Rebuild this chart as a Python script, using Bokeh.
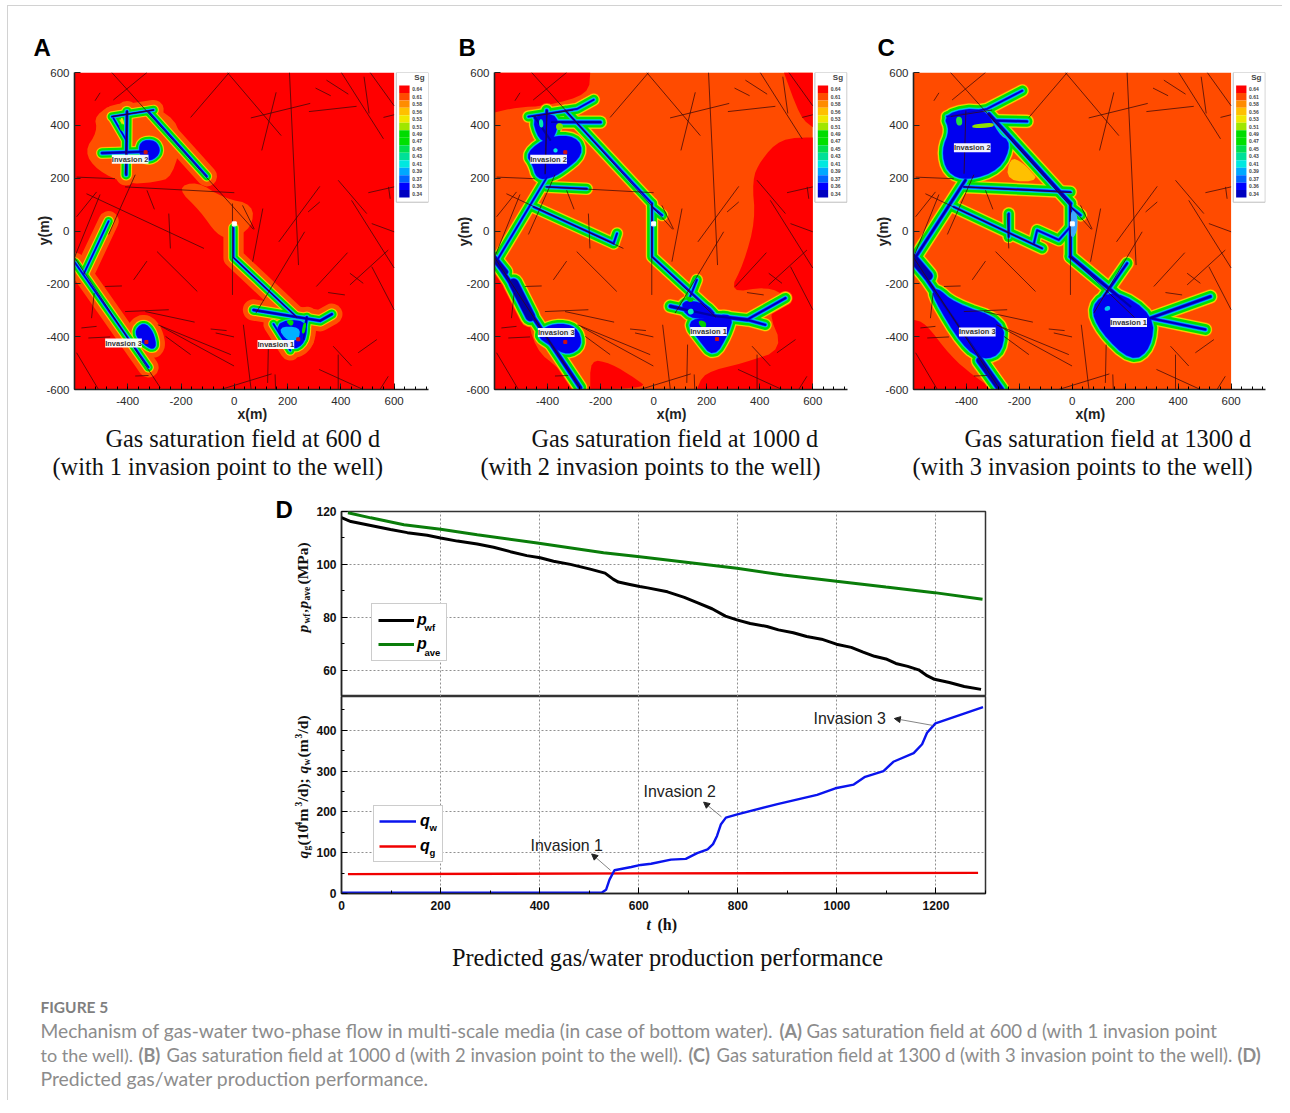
from bokeh.plotting import figure
from bokeh.layouts import column, row
from bokeh.models import (Label, Legend, LegendItem, Arrow, NormalHead, Div, FixedTicker, Range1d)
from bokeh.embed import file_html
from bokeh.resources import INLINE

# ---------- field panels: data (metres) ----------
SG_LEVELS = ["0.64","0.61","0.58","0.56","0.53","0.51","0.49","0.47","0.45","0.43","0.41","0.39","0.37","0.36","0.34"]
SG_COLORS = ["#FF0000","#FF4B00","#FF8C00","#FFC000","#F0E800","#A0E600","#00DC00","#00E000","#00E050",
             "#00E098","#00E8E0","#00A8FF","#0064FF","#0000FF","#0000C0"]
TICKS_X = [-400,-200,0,200,400,600]
TICKS_Y = [-600,-400,-200,0,200,400,600]

FRACTURES = [
 [(-460,600),(72,6)],[(-328,600),(-454,496)],[(-19,600),(-164,430)],[(-26,600),(176,361)],[(207,600),(241,-129)],
 [(62,428),(285,483)],[(280,452),(459,472)],[(157,525),(103,305)],[(346,571),(428,518)],[(305,541),(362,512)],
 [(402,600),(560,349)],[(487,584),(506,445)],[(510,600),(600,474)],[(560,430),(600,440)],[(503,145),(600,167)],
 [(579,167),(585,122)],[(390,192),(497,66)],[(440,116),(600,-140)],[(516,-135),(600,-298)],[(516,28),(600,-3)],
 [(434,-204),(578,-72)],[(434,-160),(484,-198)],[(308,-210),(425,-82)],[(352,-233),(415,-242)],[(167,-41),(321,169)],
 [(277,72),(321,110)],[(107,85),(69,-116)],[(264,-3),(81,-311)],[(-7,-97),(-7,-242)],[(-290,-78),(-139,-229)],
 [(-328,-114),(-378,-185)],[(-246,66),(-240,-66)],[(-328,154),(-300,82)],[(-555,141),(-114,-66)],[(31,97),(75,7)],
 [(-410,167),(0,145)],[(-592,204),(-448,198)],[(-592,54),(-517,148)],[(-372,213),(-472,-13)],[(-504,138),(-600,-100)],
 [(-410,-305),(-246,-298)],[(-334,-305),(-149,-345)],[(-287,-355),(-13,-468)],[(-275,-361),(-1,-511)],
 [(-258,-399),(-164,-468)],[(-89,-371),(-29,-377)],[(-70,-386),(-1,-401)],[(34,-355),(63,-600)],[(-51,-600),(140,-541)],
 [(128,-430),(125,-575)],[(153,-543),(155,-600)],[(318,-524),(484,-600)],[(390,-468),(390,-600)],[(371,-436),(440,-511)],
 [(465,-461),(535,-411)],[(547,-600),(578,-550)],[(-592,-461),(-510,-600)],[(-548,-405),(-466,-401)],[(-574,-367),(-517,-361)],
 [(-526,-235),(-536,-330)],[(-485,-210),(-422,-208)],[(-372,-549),(-322,-547)],[(-523,493),(-504,523)],
 [(-7,104),(-7,-97)],[(-7,-97),(235,-327)],[(-600,-100),(-278,-593)],[(-402,456),(-409,217)],[(-460,433),(-303,458)],
]

A_LINES = [(0,[(-460,433),(-303,458)]),(2,[(-403,452),(-406,213)]),(0,[(-454,427),(-403,339)]),(2,[(-497,295),(-322,301)]),
           (0,[(-322,452),(-103,207)]),(0,[(-472,37),(-566,-164)]),(0,[(-598,-120),(-322,-516)]),(0,[(-3,12),(-3,-101),(235,-327)]),
           (2,[(72,-299),(322,-340),(366,-315)]),(2,[(272,-327),(260,-409)]),(0,[(147,-352),(210,-452)])]
A_BLOBS = [[(-350,335),(-300,338),(-282,300),(-315,270),(-350,285)],[(-370,-385),(-341,-352),(-310,-385),(-298,-445),(-335,-425)],
           [(150,-352),(268,-340),(260,-420),(215,-445)]]
A_HALO = [[(-526,439),(-429,493),(-268,462),(-193,376),(-231,203),(-303,184),(-404,178),(-514,228),(-564,301),(-514,376)],
          [(-216,163),(-141,188),(-41,125),(72,100),(66,12),(-15,-32),(-66,-13),(-128,75)]]
A_ISLANDS = [("#00B0FF",[(165,-365),(245,-365),(240,-410),(200,-415)]),("#00E000",[(195,-340),(222,-340),(215,-360)]),
             ("#00E000",[(262,-350),(268,-350),(262,-385),(255,-385)]),("#00E000",[(-432,400),(-425,400),(-420,375)]),
             ("#E8E800",[(-425,425),(-420,425),(-415,400)])]
A_WELLS = [(-333,298),(240,-410),(-330,-420)]

B_LINES = [(0,[(-472,433),(-289,462),(-226,497)]),(2,[(-403,456),(-409,217)]),(2,[(-384,412),(-201,412)]),(3,[(-447,430),(-390,345)]),
           (0,[(-333,456),(-6,104)]),(0,[(-6,104),(-6,-97),(226,-311)]),(0,[(-6,91),(32,60)]),(0,[(-402,167),(-252,160)]),(0,[(-402,204),(-597,-122)]),
           (0,[(-453,91),(-151,-47)]),(0,[(-151,-47),(-138,-9)]),(4,[(-597,-110),(-277,-593)]),(15,[(-528,-198),(-465,-323)]),(8,[(-600,-105),(-560,-155)]),
           (3,[(63,-285),(239,-323),(352,-336)]),(1,[(352,-336),(497,-254)]),(1,[(352,-336),(421,-355)]),(0,[(138,-248),(163,-185)])]
B_BLOBS = [[(-475,292),(-392,352),(-295,352),(-272,292),(-345,232),(-390,207),(-435,203),(-450,255)],
           [(-452,435),(-360,435),(-385,342),(-428,350)],
           [(-370,-355),(-295,-368),(-275,-432),(-325,-463),(-383,-430),(-440,-390)],
           [(130,-345),(210,-335),(295,-318),(272,-392),(226,-470),(178,-410)],[(105,-268),(192,-280),(232,-323),(135,-325)]]
B_RED = [[(-600,600),(-239,600),(-245,518),(-403,474),(-516,468),(-600,449)],
         [(491,600),(600,600),(600,-600),(163,-600),(189,-537),(340,-499),(491,-449),(428,-298),(503,-248),(428,-210),(283,-235),(340,-122),(384,41),(371,192),(403,267),(478,349),(600,355),(600,393),(553,430)],
         [(-600,-97),(-516,-185),(-484,-286),(-447,-449),(-352,-524),(-289,-600),(-600,-600)],
         [(-239,-487),(-164,-499),(-63,-562),(-25,-593),(-239,-600)]]
B_ISLANDS = [("#00E8B0",[(-430,420),(-420,420),(-418,395),(-428,395)]),("#00E8E0",[(-375,310),(-365,310),(-365,300),(-375,300)]),
             ("#00E8C0",[(130,-300),(145,-295),(150,-310),(135,-315)]),("#00D000",[(170,-340),(195,-345),(195,-365),(178,-360)]),
             ("#00D000",[(125,-255),(135,-250),(150,-262),(135,-268)]),("#80E000",[(-365,405),(-345,405),(-345,385),(-365,385)])]
B_WELLS = [(-333,298),(-333,-420),(239,-409)]

C_LINES = [(0,[(-473,433),(-322,462),(-189,531)]),(1,[(-296,418),(-171,415)]),(3,[(-315,443),(-7,104)]),(0,[(-410,167),(-7,148)]),
           (2,[(-7,104),(-7,-97)]),(0,[(-7,91),(32,60)]),(2,[(-404,192),(-599,-110)]),(0,[(-448,91),(-114,-66)]),(0,[(-240,66),(-240,-22)]),
           (0,[(-145,-47),(-133,3),(-51,-34),(-7,16)]),(3,[(-7,-97),(220,-286)]),(1,[(119,-248),(207,-122)]),(2,[(295,-330),(522,-248)]),
           (1,[(295,-330),(503,-373)]),(14,[(-600,-105),(-545,-170)]),(3,[(-599,-110),(-271,-593)]),(9,[(-350,-490),(-271,-600)])]
C_BLOBS = [[(-480,440),(-334,463),(-285,360),(-238,332),(-278,238),(-397,198),(-467,225),(-486,305),(-455,380)],
           [(75,-286),(157,-228),(302,-323),(290,-440),(226,-488),(112,-378)],
           [(-518,-218),(-448,-280),(-264,-342),(-270,-455),(-334,-482),(-410,-430),(-518,-252)]]
C_RED = [[(-600,-336),(-555,-348),(-460,-474),(-372,-549),(-296,-600),(-600,-600)]]
C_UNDER = [("#FFC000",[(-233,273),(-196,261),(-120,192),(-246,192)])]
C_ISLANDS = [("#20E040",[(-437,430),(-420,430),(-418,402),(-435,402)]),("#90E000",[(-375,400),(-300,408),(-300,395),(-375,392)]),
             ("#00C8F0",[(125,-290),(140,-285),(140,-298),(125,-300)]),("#40A8FF",[(-5,80),(18,60),(15,-5),(-5,-30)])]

WELL_XY = (0, 27)
INV_LABELS = ["Invasion 1", "Invasion 2", "Invasion 3"]
A_LABEL_XY = [(156,-430),(-391,272),(-416,-424)]
B_LABEL_XY = [(207,-380),(-396,272),(-367,-384)]
C_LABEL_XY = [(213,-346),(-378,315),(-359,-382)]

# ---------- production curves ----------
T_WF = [0,19,59,99,133,173,200,234,274,307,341,374,401,428,462,502,532,549,559,582,602,618,658,692,718,748,775,798,825,859,882,912,939,969,999,1029,1053,1076,1099,1119,1143,1165,1180,1197,1227,1257,1291]
P_WF = [117.7,116.2,114.7,113.2,112,111,110,108.8,107.7,106.5,104.8,103.3,102.5,101.2,100,98.2,96.7,94.3,93.3,92.4,91.6,91.1,89.6,87.5,85.5,83.2,80.4,79,77.6,76.5,75.2,74.1,72.7,71.7,69.8,68.6,66.8,65.2,64.2,62.5,61.4,60.1,58.1,56.5,55.3,53.8,52.7]
T_AVE = [13,59,126,200,274,395,529,602,798,892,999,1099,1197,1294]
P_AVE = [119.5,117.6,115,113.3,111.2,108.1,104.4,102.9,98.5,96,93.6,91.4,89.3,86.8]
T_QW = [0,525,534,541,551,585,604,625,665,695,718,739,750,758,766,776,799,880,960,997,1034,1057,1094,1114,1155,1172,1182,1199,1295]
Q_W = [2,2,9,34,57,65,70,73,83,85,99,108,121,141,170,186,194,219,242,258,267,286,300,323,344,366,394,417,457]
T_QG = [13,600,1285]
Q_G = [47.5,49.3,50.5]

SANS = "Liberation Sans"
SERIF = "Liberation Serif"
CAP = "Lato"
CAP_COLOR = "#8c8c8c"

class Box:
    def __init__(s, fl, ft, fr, fb, l, t, r, b, xr, yr):
        s.fl, s.ft, s.fr, s.fb, s.l, s.t, s.r, s.b, s.xr, s.yr = fl, ft, fr, fb, l, t, r, b, xr, yr

def mk(box, **kw):
    p = figure(width=box.fr - box.fl, height=box.fb - box.ft, toolbar_location=None, output_backend="svg",
               x_range=Range1d(*box.xr), y_range=Range1d(*box.yr),
               min_border_left=box.l - box.fl, min_border_right=box.fr - box.r,
               min_border_top=box.t - box.ft, min_border_bottom=box.fb - box.b, **kw)
    p.outline_line_color = None
    return p

# transparent page-sized sheet that carries every text lying outside the plot frames
OV_L, OV_T, OV_W, OV_H = 0, 6, 1282, 1099
sheet = figure(width=OV_W, height=OV_H, toolbar_location=None, output_backend="svg",
               x_range=Range1d(0, OV_W), y_range=Range1d(0, OV_H), x_axis_type=None, y_axis_type=None,
               min_border=0, min_border_left=0, min_border_right=0, min_border_top=0, min_border_bottom=0,
               background_fill_color=None, border_fill_color=None, margin=(-OV_H, 0, 0, 0))
sheet.outline_line_color = None
sheet.grid.visible = False

def put(px, py, txt, size, font=SANS, style="normal", color="#111111", align="left", angle=0):
    sheet.add_layout(Label(x=px - OV_L, y=OV_T + OV_H - py, x_units="screen", y_units="screen",
                           text=txt, text_font=font, text_font_size=f"{size}px",
                           text_font_style=style, text_color=color, text_align=align, text_baseline="middle",
                           angle=angle, angle_units="deg"))

def rounded(poly, n=2):
    # corner-cut a region outline when drawing it; corners on the field's edge stay put
    for _ in range(n):
        out = []
        m = len(poly)
        for i, c in enumerate(poly):
            if abs(c[0]) >= 600 or abs(c[1]) >= 600:
                out.append(c)
                continue
            a, b = poly[i - 1], poly[(i + 1) % m]
            out.append((0.75 * c[0] + 0.25 * a[0], 0.75 * c[1] + 0.25 * a[1]))
            out.append((0.75 * c[0] + 0.25 * b[0], 0.75 * c[1] + 0.25 * b[1]))
        poly = out
    return poly

LAYERS = [("#FF8C00",24),("#FFC800",22.5),("#C8F000",20.5),("#00E000",18.5),("#00DC96",9.5),("#00C8F0",7.5),("#0078FF",5.5),("#0000F0",3.5),("#0000AA",1.2)]
BLOB_E = 4

def field(box, letter, bg, halo_e, k, lines, blobs, red, halo, under, islands, wells, lab_xy, cap1, cap1x, cap2, cap2x, letter_x):
    p = mk(box)
    ppm = (box.r - box.l) / (box.xr[1] - box.xr[0])
    p.grid.visible = False
    p.quad(left=[-600], right=[600], bottom=[-600], top=[600], fill_color=bg, line_color=None)
    if red:
        rr = [rounded(r) for r in red]
        p.patches([[c[0] for c in r] for r in rr], [[c[1] for c in r] for r in rr], fill_color="#FF0000", line_color=None)
    if halo:
        hh = [rounded(r) for r in halo]
        p.patches([[c[0] for c in r] for r in hh], [[c[1] for c in r] for r in hh], fill_color="#FF5000", line_color=None)
    for col, poly in under:
        poly = rounded(poly)
        p.patch([c[0] for c in poly], [c[1] for c in poly], fill_color=col, line_color=col, line_width=2)
    lx = [[c[0] for c in l[1]] for l in lines]
    ly = [[c[1] for c in l[1]] for l in lines]
    rb = [rounded(b) for b in blobs]
    bx = [[c[0] for c in b] for b in rb]
    by = [[c[1] for c in b] for b in rb]
    stack = [("#FF5000", halo_e)] + [(c, e * k) for c, e in LAYERS]
    for i, (col, e) in enumerate(stack):
        p.multi_line(lx, ly, line_color=col, line_cap="round", line_join="round",
                     line_width=[2 * (l[0] + e) * ppm for l in lines])
        if i < len(stack) - 1:
            p.patches(bx, by, fill_color=col, line_color=col, line_join="round", line_width=2 * (e + BLOB_E) * ppm)
    for col, poly in islands:
        poly = rounded(poly)
        p.patch([c[0] for c in poly], [c[1] for c in poly], fill_color=col, line_color=col, line_width=1.5, line_join="round")
    p.multi_line([[f[0][0], f[1][0]] for f in FRACTURES], [[f[0][1], f[1][1]] for f in FRACTURES],
                 line_color="#3A0A0A", line_width=1, line_alpha=0.75)
    p.scatter([w[0] for w in wells], [w[1] for w in wells], size=3, color="#D01010", marker="square")
    p.scatter([WELL_XY[0]], [WELL_XY[1]], size=4, color="white", marker="square")
    for name, (x, y) in zip(INV_LABELS, lab_xy):
        p.add_layout(Label(x=x, y=y, text=name, text_font=SANS, text_font_size="7.5px", text_font_style="bold",
                           text_color="#333333", text_align="center", text_baseline="middle",
                           background_fill_color="white", background_fill_alpha=0.95))
    p.quad(left=[608], right=[729], bottom=[109], top=[600], fill_color="white", line_color="#BDBDBD", line_width=1)
    tops = [551 - 28.3 * i for i in range(len(SG_COLORS))]
    p.quad(left=619, right=658, top=tops, bottom=[t - 28.3 for t in tops], fill_color=SG_COLORS, line_color=None)
    p.text(x=[668] * len(SG_LEVELS), y=[t - 14 for t in tops], text=SG_LEVELS, text_font_size="5px", text_font={"value": SANS},
           text_font_style="bold", text_color="#444444", text_baseline="middle", text_align="left")
    p.text(x=[695], y=[580], text=["Sg"], text_font_size="8px", text_font={"value": SANS}, text_font_style="bold",
           text_color="#444444", text_baseline="middle", text_align="center")
    p.xaxis.ticker = FixedTicker(ticks=TICKS_X, minor_ticks=list(range(-600, 730, 40)))
    p.yaxis.ticker = FixedTicker(ticks=TICKS_Y, minor_ticks=[])
    for ax, ticks in ((p.xaxis[0], TICKS_X), (p.yaxis[0], TICKS_Y)):
        ax.major_label_overrides = {t: str(t) for t in ticks}
        ax.major_tick_in, ax.major_tick_out = 6, 0
        ax.minor_tick_in, ax.minor_tick_out = 3, 0
        ax.axis_line_width = 1.6
        ax.axis_line_color = "#222222"
        ax.major_tick_line_color = "#222222"
        ax.major_label_text_font = SANS
        ax.major_label_text_font_size = "11.5px"
        ax.major_label_text_color = "#2A2A2A"
    p.xaxis.major_label_standoff = 7
    p.yaxis.major_label_standoff = 5
    p.yaxis.major_label_orientation = "horizontal"
    put((box.l + (box.l + (box.r - box.l) * 1200 / (box.xr[1] - box.xr[0]))) / 2 + 18, 413, "x(m)", 14, style="bold", color="#222222", align="center")
    put(box.l - 31, (box.t + box.b) / 2, "y(m)", 14, style="bold", color="#222222", align="center", angle=90)
    put(letter_x, 47, letter, 24, style="bold", color="#000000")
    put(cap1x, 438, cap1, 24.3, font=SERIF)
    put(cap2x, 466, cap2, 24.3, font=SERIF)
    return p

BA = Box(8, 6, 455, 490, 74, 71, 428, 389, (-600, 729), (-600, 600))
BB = Box(455, 6, 872, 490, 494, 72, 847, 390, (-600, 731), (-600, 600))
BC = Box(872, 6, 1282, 490, 913, 72, 1265, 390, (-600, 730), (-600, 600))

pA = field(BA, "A", "#FF0000", 38, 0.85, A_LINES, A_BLOBS, [], A_HALO, [], A_ISLANDS, A_WELLS, A_LABEL_XY,
           "Gas saturation field at 600 d", 105, "(with 1 invasion point to the well)", 52, 33)
pB = field(BB, "B", "#FF4B00", 26, 1.0, B_LINES, B_BLOBS, B_RED, [], [], B_ISLANDS, B_WELLS, B_LABEL_XY,
           "Gas saturation field at 1000 d", 531, "(with 2 invasion points to the well)", 480, 458)
pC = field(BC, "C", "#FF4B00", 26, 1.05, C_LINES, C_BLOBS, C_RED, [], C_UNDER, C_ISLANDS, [], C_LABEL_XY,
           "Gas saturation field at 1300 d", 964, "(with 3 invasion points to the well)", 912, 877)

# ---------- panel D ----------
XT = [0,200,400,600,800,1000,1200]
BT = Box(8, 490, 1282, 696, 341, 511, 985, 696, (0, 1300), (50, 120))
BQ = Box(8, 696, 1282, 1105, 341, 696, 985, 893, (0, 1300), (0, 483))

def style_axes(p):
    p.outline_line_color = "#333333"
    p.outline_line_width = 1.5
    for g in (p.xgrid[0], p.ygrid[0]):
        g.grid_line_color = "#909090"
        g.grid_line_dash = "2 2"
        g.grid_line_width = 1
    for ax in (p.xaxis[0], p.yaxis[0]):
        ax.major_tick_in, ax.major_tick_out = 6, 0
        ax.minor_tick_in, ax.minor_tick_out = 3, 0
        ax.axis_line_width = 1.5
        ax.axis_line_color = "#222222"
        ax.major_label_text_font = SANS
        ax.major_label_text_font_size = "12px"
        ax.major_label_text_font_style = "bold"
        ax.major_label_text_color = "#111111"
        ax.major_label_standoff = 5
    p.xaxis.major_label_standoff = 7

pT = mk(BT)
pT.xaxis.ticker = FixedTicker(ticks=XT, minor_ticks=[])
pT.xgrid.ticker = FixedTicker(ticks=XT)
pT.yaxis.ticker = FixedTicker(ticks=[60,80,100,120], minor_ticks=[70,90,110])
pT.ygrid.ticker = FixedTicker(ticks=[60,80,100])
style_axes(pT)
pT.xaxis.visible = False
rw = pT.line(T_WF, P_WF, line_color="#000000", line_width=3)
ra = pT.line(T_AVE, P_AVE, line_color="#0A7D0A", line_width=3)
lg = Legend(items=[LegendItem(label="p", renderers=[rw]), LegendItem(label="p", renderers=[ra])],
            location=(30, 35), border_line_color="#999999", border_line_width=1, padding=6, margin=0, spacing=4,
            glyph_width=36, glyph_height=20, label_height=20, label_width=23, label_standoff=3,
            label_text_font=SANS, label_text_font_style="bold italic", label_text_font_size="16px", label_text_color="#000000",
            background_fill_alpha=1)
pT.add_layout(lg)
Y = 302
for t, py, dx, sz, st in [("p",632,0,15.5,"bold italic"),("wf",623,4,9.5,"bold"),(",",612,0,13,"bold"),("p",608,0,15.5,"bold italic"),
                          ("ave",600,4,9.5,"bold"),("(MPa)",584,0,15.5,"bold")]:
    put(Y + dx, py, t, sz, font=SERIF, style=st, color="#111111", angle=90)
put(275, 509, "D", 24, style="bold", color="#000000")
put(424, 627, "wf", 9.5, style="bold", color="#000000")
put(424, 652, "ave", 9.5, style="bold", color="#000000")

pQ = mk(BQ)
pQ.xaxis.ticker = FixedTicker(ticks=XT, minor_ticks=[100,300,500,700,900,1100,1300])
pQ.xgrid.ticker = FixedTicker(ticks=XT)
pQ.yaxis.ticker = FixedTicker(ticks=[0,100,200,300,400], minor_ticks=[50,150,250,350,450])
pQ.ygrid.ticker = FixedTicker(ticks=[100,200,300,400])
style_axes(pQ)
rg = pQ.line(T_QG, Q_G, line_color="#F00000", line_width=2.4)
rq = pQ.line(T_QW, Q_W, line_color="#0A14EE", line_width=2.4)
lg2 = Legend(items=[LegendItem(label="q", renderers=[rq]), LegendItem(label="q", renderers=[rg])],
             location=(32, 31), border_line_color="#999999", border_line_width=1, padding=5, margin=0, spacing=5,
             glyph_width=37, glyph_height=20, label_height=20, label_width=17, label_standoff=4,
             label_text_font=SANS, label_text_font_style="bold italic", label_text_font_size="16px", label_text_color="#000000",
             background_fill_alpha=1)
pQ.add_layout(lg2)
put(429, 827, "w", 9.5, style="bold", color="#000000")
put(429, 852, "g", 9.5, style="bold", color="#000000")
for t, py, dx, sz, st in [("q",858,0,15.5,"bold italic"),("g",850,4,9.5,"bold"),("(10",845,0,15.5,"bold"),("4",826,-4,9.5,"bold"),
                          ("m",821,0,15.5,"bold"),("3",806,-4,9.5,"bold"),("/d);",801,0,15.5,"bold"),("q",773,0,15.5,"bold italic"),
                          ("w",765,4,9.5,"bold"),("(m",757,0,15.5,"bold"),("3",738,-4,9.5,"bold"),("/d)",733,0,15.5,"bold")]:
    put(Y + dx, py, t, sz, font=SERIF, style=st, color="#111111", angle=90)
put(646, 924, "t", 16, font=SERIF, style="bold italic", color="#111111")
put(657, 924, "(h)", 16, font=SERIF, style="bold", color="#111111")

ARROWS = [((543,57),(505,97)),((767,188),(731,224)),((1194,412),(1116,429))]
for (a, b) in ARROWS:
    pQ.add_layout(Arrow(end=NormalHead(size=6, fill_color="#222222", line_color="#222222"), x_start=a[0], y_start=a[1], x_end=b[0], y_end=b[1],
                        line_color="#666666", line_width=0.8))
put(530, 845, "Invasion 1", 15.9, color="#222222")
put(643, 791, "Invasion 2", 15.9, color="#222222")
put(813, 718, "Invasion 3", 15.9, color="#222222")
put(667, 957, "Predicted gas/water production performance", 24.3, font=SERIF, align="center")

put(40, 1006, "FIGURE 5", 15.5, font=CAP, style="bold", color="#7f7f7f")
for px, py, t, st, sz in [
    (40, 1030, "Mechanism of gas-water two-phase flow in multi-scale media (in case of bottom water).", "normal", 19.2),
    (779, 1030, "(A)", "bold", 18), (806, 1030, "Gas saturation field at 600 d (with 1 invasion point", "normal", 18.6),
    (40, 1054, "to the well).", "normal", 18), (138, 1054, "(B)", "bold", 18),
    (166, 1054, "Gas saturation field at 1000 d (with 2 invasion point to the well).", "normal", 18.4),
    (688, 1054, "(C)", "bold", 18), (716, 1054, "Gas saturation field at 1300 d (with 3 invasion point to the well).", "normal", 18.4),
    (1237, 1054, "(D)", "bold", 18), (40, 1078, "Predicted gas/water production performance.", "normal", 19.4)]:
    put(px, py, t, sz, font=CAP, style=st, color=CAP_COLOR)

top_rule = Div(text="", width=1274, height=1, margin=(5, 0, 0, 0), styles={"background": "#D2D2D2"})
left_rule = Div(text="", width=1, height=1095, margin=(5, 0, 0, 7), styles={"background": "#D2D2D2"})
content = column(top_rule, row(pA, pB, pC), pT, pQ)
root = column(row(left_rule, content), sheet)
open("out.html", "w").write(file_html(root, INLINE))
